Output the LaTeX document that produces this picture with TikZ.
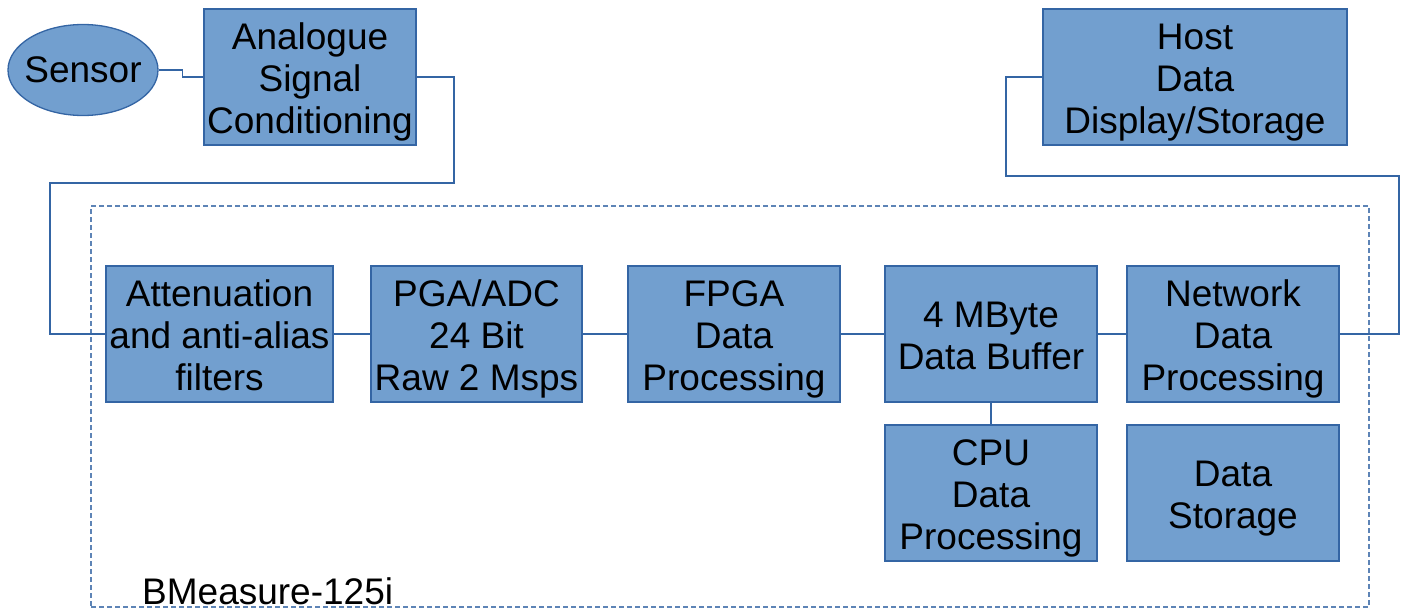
\documentclass[tikz,border=0pt]{standalone}
\usepackage{fontspec}
\setmainfont{Liberation Sans}
\usetikzlibrary{shapes.geometric}
\definecolor{boxfill}{HTML}{729FCF}
\definecolor{boxline}{HTML}{3465A4}
\newcommand{\firstline}{\rule{0pt}{36.6pt}}
\newcommand{\lastline}{\rule[-8pt]{0pt}{8pt}}

\begin{document}
\begin{tikzpicture}[x=1pt,y=-1pt,
  block/.style={draw=boxline,fill=boxfill,line width=1.3pt,inner sep=0pt,
    minimum width=212pt,minimum height=136pt,align=center,
    font=\fontsize{37}{42}\selectfont},
  wire/.style={draw=boxline,line width=1.2pt},
  board/.style={draw=boxline!80,line width=1.2pt,dash pattern=on 5pt off 3pt,
    minimum width=1278pt,minimum height=401pt,inner sep=0pt}]
\useasboundingbox (0,0) rectangle (1405,610);

\node[board] (bmeasure) at (730,406.5) {};
\node[anchor=base west,inner sep=0pt,font=\fontsize{37}{42}\selectfont] (bmlabel) at (142,604) {BMeasure-125i};

\node[block,ellipse,inner xsep=-6pt,minimum width=150pt,minimum height=91pt] (sensor) at (83,70) {Sensor};
\node[block] (analogue) at (310,77) {\firstline Analogue\\Signal\\Conditioning\lastline};
\node[block,minimum width=304pt] (host) at (1195,77) {\firstline Host\\Data\\Display/Storage\lastline};

\node[block,minimum width=227pt] (atten) at (219.5,334) {\firstline Attenuation\\and anti-alias\\filters\lastline};
\node[block,minimum width=211pt] (pga) at (476.5,334) {\firstline PGA/ADC\\24 Bit\\Raw 2 Msps\lastline};
\node[block] (fpga) at (734,334) {\firstline FPGA\\Data\\Processing\lastline};
\node[block] (buffer) at (991,334) {\firstline 4 MByte\\Data Buffer\lastline};
\node[block] (network) at (1233,334) {\firstline Network\\Data\\Processing\lastline};
\node[block] (cpu) at (991,493) {\firstline CPU\\Data\\Processing\lastline};
\node[block] (storage) at (1233,493) {\firstline Data\\Storage\lastline};

\draw[wire] (sensor.east) -- ++(24,0) |- (analogue.west);
\draw[wire] (analogue.east) -| (454,183) -| (50,334) -- (atten.west);
\draw[wire] (atten) -- (pga);
\draw[wire] (pga) -- (fpga);
\draw[wire] (fpga) -- (buffer);
\draw[wire] (buffer) -- (network);
\draw[wire] (buffer) -- (cpu);
\draw[wire] (network.east) -| (1399,176) -| (1006,77) -- (host.west);
\end{tikzpicture}
\end{document}
